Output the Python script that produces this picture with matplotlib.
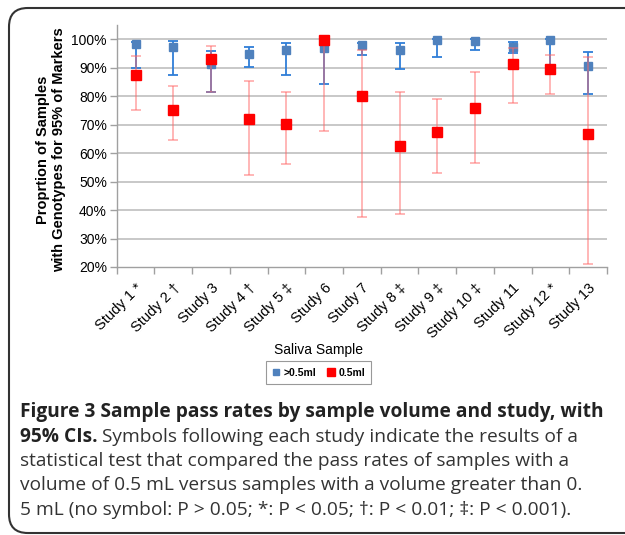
import matplotlib
matplotlib.use("Agg")
import matplotlib.pyplot as plt
import matplotlib.transforms as mtransforms
import numpy as np
from matplotlib.patches import FancyBboxPatch
from matplotlib.ticker import FixedLocator, PercentFormatter

studies = ["Study 1 *", "Study 2 \u2020", "Study 3", "Study 4 \u2020", "Study 5 \u2021",
           "Study 6", "Study 7", "Study 8 \u2021", "Study 9 \u2021", "Study 10 \u2021",
           "Study 11", "Study 12 *", "Study 13"]
big_val = [98.2, 97.4, 91.3, 94.9, 96.3, 96.8, 98.0, 96.3, 99.8, 99.4, 97.2, 99.8, 90.5]
big_lo = [89.8, 87.5, 81.3, 90.4, 87.5, 84.3, 94.3, 89.5, 93.9, 96.3, 95.0, 89.5, 80.6]
big_hi = [99.1, 99.4, 96.0, 97.4, 98.8, 100.0, 98.6, 98.8, 100.0, 100.0, 99.2, 100.0, 95.6]
small_val = [87.5, 75.2, 93.0, 72.0, 70.3, 99.8, 80.1, 62.6, 67.4, 76.0, 91.3, 89.6, 66.8]
small_lo = [75.2, 64.7, 81.6, 52.4, 56.1, 67.6, 37.5, 38.7, 53.0, 56.5, 77.5, 80.6, 21.1]
small_hi = [94.2, 83.4, 97.7, 85.5, 81.3, 100.0, 96.3, 81.5, 79.1, 88.5, 97.0, 94.6, 93.7]
yticks = [20, 30, 40, 50, 60, 70, 80, 90, 100]

plt.rcParams['font.family'] = ['Liberation Sans', 'DejaVu Sans']
W, H = 625, 535
fig = plt.figure(figsize=(W / 100, H / 100), dpi=100)

ax = fig.add_axes([116.7 / W, 1 - 267 / H, (607 - 116.7) / W, (267 - 25) / H])
x = np.arange(len(studies))
bv = np.array(big_val); sv = np.array(small_val)
ax.errorbar(x, bv, yerr=[bv - np.array(big_lo), np.array(big_hi) - bv], fmt='none',
            ecolor='#2f7ed8', elinewidth=1.3, capsize=3.5, capthick=1.3, zorder=3)
ax.plot(x, bv, 's', color='#4f81bd', ms=5.2, zorder=4, label='>0.5ml')
ax.errorbar(x, sv, yerr=[sv - np.array(small_lo), np.array(small_hi) - sv], fmt='none',
            ecolor='#ff6666', alpha=0.6, elinewidth=1.1, capsize=3.5, capthick=1.1, zorder=5)
ax.plot(x, sv, 's', color='#ff0000', ms=7.2, zorder=6, label='0.5ml')

ax.set_xlim(-0.5, len(studies) - 0.5)
ax.set_ylim(20, 105)
ax.yaxis.set_major_locator(FixedLocator(yticks))
ax.yaxis.set_major_formatter(PercentFormatter(decimals=0))
for yv in yticks[1:]:
    ax.axhline(yv, color='#bfbfbf', lw=1.2, zorder=1)
ax.set_xticks(x)
ax.set_xticklabels(studies, rotation=45, ha='right', rotation_mode='anchor', fontsize=10.5)
off = mtransforms.ScaledTranslation(3 / 100, 0, fig.dpi_scale_trans)
for lab in ax.get_xticklabels():
    lab.set_transform(lab.get_transform() + off)
ax.set_xticks(np.arange(-0.5, len(studies) + 0.5, 1), minor=True)
ax.tick_params(axis='x', which='major', length=0, pad=10)
ax.tick_params(axis='x', which='minor', length=5, color='#a0a0a0', width=1)
ax.tick_params(axis='y', length=5, color='#a0a0a0', width=1, labelsize=10, pad=2)
for s in ['top', 'right']:
    ax.spines[s].set_visible(False)
for s in ['left', 'bottom']:
    ax.spines[s].set_color('#a0a0a0')
    ax.spines[s].set_linewidth(1)
fig.text(51 / W, 1 - 150 / H, "Proprtion of Samples\nwith Genotypes for 95% of Markers",
         rotation=90, ha='center', va='center', fontsize=10.5, fontweight='bold',
         linespacing=1.1, multialignment='center')

fig.text(318 / W, 1 - 350 / H, "Saliva Sample", ha='center', va='center', fontsize=10)
leg = fig.legend(loc='center', bbox_to_anchor=(318.5 / W, 1 - 372.5 / H), ncol=2,
                 prop={'weight': 'bold', 'size': 7.5}, frameon=True, fancybox=False,
                 handlelength=0.8, handletextpad=0.3, columnspacing=1.0, markerscale=0.8,
                 borderpad=0.6)
leg.get_frame().set_edgecolor('#808080')
leg.get_frame().set_linewidth(0.8)

frame = FancyBboxPatch((9 / W, 1 - 533 / H), 650 / W, 525 / H,
                       boxstyle="round,pad=0,rounding_size=0.03",
                       transform=fig.transFigure, fill=False, ec='#333333', lw=1.5,
                       clip_on=False, mutation_aspect=W / H)
fig.patches.append(frame)

cap_font = ['Open Sans', 'DejaVu Sans']
cs = 13.8
fig.text(20 / W, 1 - 412 / H, "Figure 3 Sample pass rates by sample volume and study, with",
         fontsize=cs, fontweight='bold', family=cap_font, va='center', color='#222222')
b = fig.text(20 / W, 1 - 437 / H, "95% CIs.", fontsize=cs, fontweight='bold',
             family=cap_font, va='center', color='#222222')
fig.canvas.draw()
bb = b.get_window_extent()
fig.text((bb.x1 + 4) / W, 1 - 437 / H,
         "Symbols following each study indicate the results of a",
         fontsize=cs, family=cap_font, va='center', color='#333333')
rest = ["statistical test that compared the pass rates of samples with a",
        "volume of 0.5 mL versus samples with a volume greater than 0.",
        "5 mL (no symbol: P > 0.05; *: P < 0.05; \u2020: P < 0.01; \u2021: P < 0.001)."]
for i, line in enumerate(rest):
    fig.text(20 / W, 1 - (461 + 24.5 * i) / H, line, fontsize=cs, family=cap_font,
             va='center', color='#333333')

fig.savefig("out.png", dpi=100)
